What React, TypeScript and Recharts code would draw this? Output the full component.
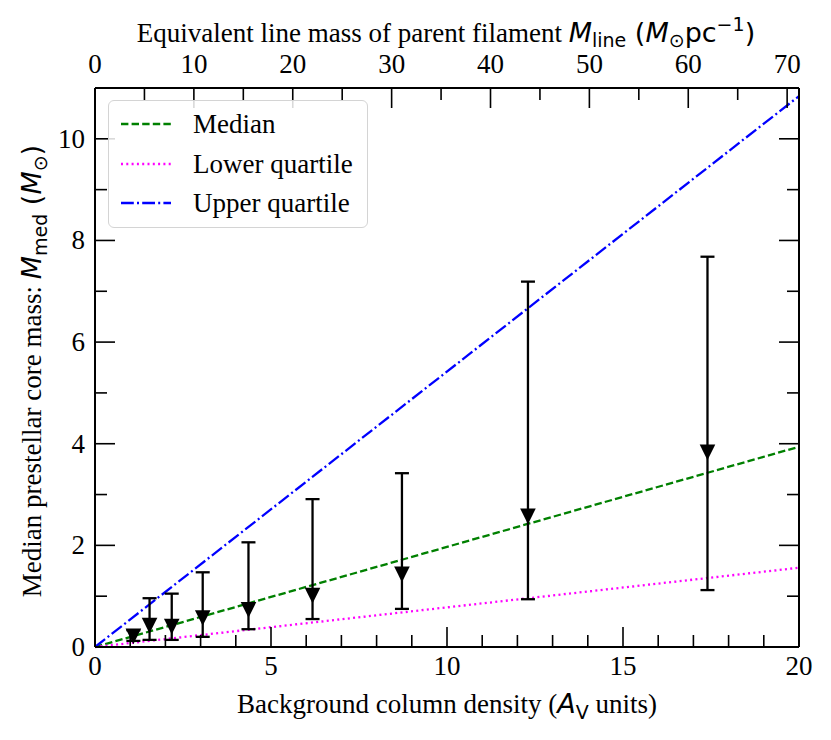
import { ComposedChart, ErrorBar, Legend, Line, Scatter, XAxis, YAxis } from "recharts";

// binned cores: background A_V, median mass, lower/upper quartile of the bin
const avBins = [1.09, 1.55, 2.18, 3.06, 4.36, 6.18, 8.72, 12.3, 17.4];
const medMass = [0.21, 0.42, 0.4, 0.57, 0.73, 1.01, 1.43, 2.57, 3.83];
const lowMass = [0.12, 0.14, 0.14, 0.2, 0.35, 0.55, 0.75, 0.94, 1.12];
const highMass = [0.33, 0.96, 1.05, 1.47, 2.06, 2.91, 3.42, 7.19, 7.68];

// model relations (end points)
const modelAv = [0, 20];
const medianModel = [0, 3.94];
const lowerModel = [0, 1.56];
const upperModel = [0, 10.84];

const xTicks = Array.from({ length: 21 }, (_, i) => i);
const yTicks = Array.from({ length: 12 }, (_, i) => i);
const topTicks = Array.from({ length: 15 }, (_, i) => i * 5);

const SERIF = "'Liberation Serif', 'Times New Roman', serif";
const SANS = "'DejaVu Sans', sans-serif";
const FS = 27;
const SUB = 19;
const LW = 2.3;

const points = avBins.map((x, i) => ({
  x,
  y: medMass[i],
  err: [medMass[i] - lowMass[i], highMass[i] - medMass[i]],
}));
const toLine = (ys: number[]) => modelAv.map((x, i) => ({ x, y: ys[i] }));

const legendItems = [
  { name: "Median", color: "#008000", dash: "7.4 3.2" },
  { name: "Lower quartile", color: "#ff00ff", dash: "2 3.3" },
  { name: "Upper quartile", color: "#0000ff", dash: "12.8 3.2 2 3.2" },
];

function BottomTick({ x, y, payload }: any) {
  const major = payload.value % 5 === 0;
  return (
    <g>
      <line x1={x} x2={x} y1={y} y2={y - (major ? 20 : 12)} stroke="#000" strokeWidth={1.6} />
      {major && (
        <text x={x} y={y + 28} textAnchor="middle" fontFamily={SERIF} fontSize={FS} fill="#000">
          {payload.value}
        </text>
      )}
    </g>
  );
}

function TopTick({ x, y, payload }: any) {
  const major = payload.value % 10 === 0;
  return (
    <g>
      <line x1={x} x2={x} y1={y} y2={y + (major ? 20 : 12)} stroke="#000" strokeWidth={1.6} />
      {major && (
        <text x={x} y={y - 15} textAnchor="middle" fontFamily={SERIF} fontSize={FS} fill="#000">
          {payload.value}
        </text>
      )}
    </g>
  );
}

function LeftTick({ x, y, payload }: any) {
  const major = payload.value % 2 === 0;
  return (
    <g>
      <line x1={x} x2={x + (major ? 20 : 12)} y1={y} y2={y} stroke="#000" strokeWidth={1.6} />
      {major && (
        <text x={x - 10} y={y + 9} textAnchor="end" fontFamily={SERIF} fontSize={FS} fill="#000">
          {payload.value}
        </text>
      )}
    </g>
  );
}

function RightTick({ x, y, payload }: any) {
  const major = payload.value % 2 === 0;
  return <line x1={x} x2={x - (major ? 20 : 12)} y1={y} y2={y} stroke="#000" strokeWidth={1.6} />;
}

function Triangle({ cx, cy }: any) {
  return <polygon points={`${cx - 7.8},${cy - 7.8} ${cx + 7.8},${cy - 7.8} ${cx},${cy + 7.8}`} fill="#000" />;
}

function TopTitle() {
  return (
    <text x={438} y={34} textAnchor="middle" fontFamily={SERIF} fontSize={FS} fill="#000">
      Equivalent line mass of parent filament{" "}
      <tspan fontFamily={SANS} fontStyle="italic">M</tspan>
      <tspan fontFamily={SANS} fontSize={SUB} dy={5}>line</tspan>
      <tspan fontFamily={SANS} dy={-5}>{"  ("}</tspan>
      <tspan fontFamily={SANS} fontStyle="italic">M</tspan>
      <tspan fontFamily={SANS} fontSize={SUB} dy={5}>⊙</tspan>
      <tspan fontFamily={SANS} dy={-5}>pc</tspan>
      <tspan fontFamily={SANS} fontSize={SUB} dy={-11}>−1</tspan>
      <tspan fontFamily={SANS} dy={11}>)</tspan>
    </text>
  );
}

function BottomTitle() {
  return (
    <text x={439} y={705} textAnchor="middle" fontFamily={SERIF} fontSize={FS} fill="#000">
      Background column density (
      <tspan fontFamily={SANS} fontStyle="italic">A</tspan>
      <tspan fontFamily={SANS} fontSize={SUB} dy={6}>V</tspan>
      <tspan dy={-6}>{"  units)"}</tspan>
    </text>
  );
}

function LeftTitle() {
  return (
    <text
      x={33}
      y={363}
      transform="rotate(-90, 33, 363)"
      textAnchor="middle"
      fontFamily={SERIF}
      fontSize={FS}
      fill="#000"
    >
      Median prestellar core mass:{" "}
      <tspan fontFamily={SANS} fontStyle="italic">M</tspan>
      <tspan fontFamily={SANS} fontSize={SUB} dy={6}>med</tspan>
      <tspan fontFamily={SANS} dy={-6}>{" ("}</tspan>
      <tspan fontFamily={SANS} fontStyle="italic">M</tspan>
      <tspan fontFamily={SANS} fontSize={SUB} dy={6}>⊙</tspan>
      <tspan fontFamily={SANS} dy={-6}>)</tspan>
    </text>
  );
}

function LegendBox() {
  return (
    <div
      style={{
        width: 260,
        height: 128,
        border: "1.5px solid #d4d4d4",
        borderRadius: 6,
        background: "rgba(255,255,255,0.85)",
        boxSizing: "border-box",
        position: "relative",
        fontFamily: SERIF,
        fontSize: FS,
      }}
    >
      {legendItems.map((it, i) => (
        <div
          key={it.name}
          style={{ position: "absolute", left: 11, top: 6 + i * 39.5, height: 34, display: "flex", alignItems: "center" }}
        >
          <svg width={52} height={10}>
            <line x1={1} x2={51} y1={5} y2={5} stroke={it.color} strokeWidth={LW} strokeDasharray={it.dash} />
          </svg>
          <span style={{ marginLeft: 21, color: "#000", lineHeight: "34px" }}>{it.name}</span>
        </div>
      ))}
    </div>
  );
}

export default function App() {
  return (
    <ComposedChart width={823} height={732} margin={{ top: 0, right: 0, bottom: 0, left: 0 }}>
      <XAxis
        xAxisId="b"
        type="number"
        dataKey="x"
        domain={[0, 20]}
        ticks={xTicks}
        interval={0}
        height={93}
        tickSize={0}
        tickMargin={0}
        tickLine={false}
        axisLine={{ stroke: "#000", strokeWidth: 2 }}
        tick={<BottomTick />}
        label={<BottomTitle />}
      />
      <XAxis
        xAxisId="t"
        orientation="top"
        type="number"
        dataKey="x"
        domain={[0, 71.2]}
        ticks={topTicks}
        interval={0}
        height={80}
        tickSize={0}
        tickMargin={0}
        tickLine={false}
        axisLine={{ stroke: "#000", strokeWidth: 2 }}
        tick={<TopTick />}
        label={<TopTitle />}
      />
      <YAxis
        yAxisId="l"
        type="number"
        domain={[0, 11]}
        ticks={yTicks}
        interval={0}
        width={87}
        tickSize={0}
        tickMargin={0}
        tickLine={false}
        axisLine={{ stroke: "#000", strokeWidth: 2 }}
        tick={<LeftTick />}
        label={<LeftTitle />}
      />
      <YAxis
        yAxisId="r"
        orientation="right"
        type="number"
        domain={[0, 11]}
        ticks={yTicks}
        interval={0}
        width={32}
        tickSize={0}
        tickMargin={0}
        tickLine={false}
        axisLine={{ stroke: "#000", strokeWidth: 2 }}
        tick={<RightTick />}
      />
      {/* invisible series so the top and right axes get drawn */}
      <Line
        xAxisId="t"
        yAxisId="r"
        data={toLine(lowerModel)}
        dataKey="y"
        stroke="none"
        dot={false}
        legendType="none"
        isAnimationActive={false}
      />
      <Line
        xAxisId="b"
        yAxisId="l"
        data={toLine(medianModel)}
        dataKey="y"
        stroke="#008000"
        strokeWidth={LW}
        strokeDasharray="7.4 3.2"
        dot={false}
        isAnimationActive={false}
      />
      <Line
        xAxisId="b"
        yAxisId="l"
        data={toLine(lowerModel)}
        dataKey="y"
        stroke="#ff00ff"
        strokeWidth={LW}
        strokeDasharray="2 3.3"
        dot={false}
        isAnimationActive={false}
      />
      <Line
        xAxisId="b"
        yAxisId="l"
        data={toLine(upperModel)}
        dataKey="y"
        stroke="#0000ff"
        strokeWidth={LW}
        strokeDasharray="12.8 3.2 2 3.2"
        dot={false}
        isAnimationActive={false}
      />
      <Scatter xAxisId="b" yAxisId="l" data={points} dataKey="y" shape={<Triangle />} isAnimationActive={false}>
        <ErrorBar dataKey="err" direction="y" width={7} stroke="#000" strokeWidth={LW} isAnimationActive={false} />
      </Scatter>
      <Legend
        layout="vertical"
        align="center"
        verticalAlign="middle"
        wrapperStyle={{ left: 100, top: 92, width: 260, height: 128 }}
        content={<LegendBox />}
      />
    </ComposedChart>
  );
}
